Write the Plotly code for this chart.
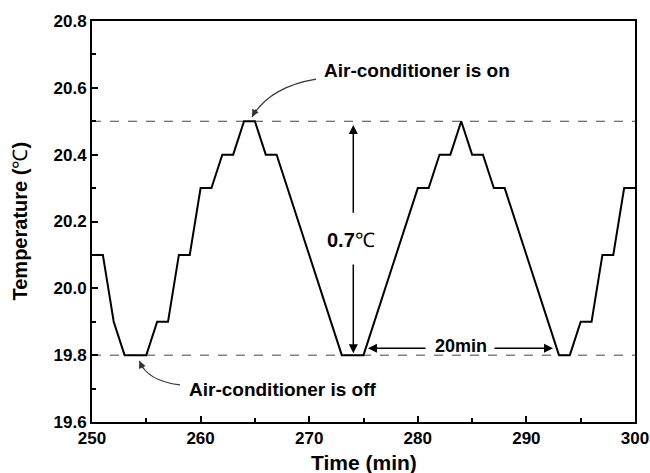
import plotly.graph_objects as go

# Data
time_min = [250, 251, 252, 253, 255, 256, 257, 258, 259, 260, 261, 262, 263, 264, 265, 266, 267,
            273, 275, 280, 281, 282, 283, 284, 285, 286, 287, 288, 293, 294, 295, 296, 297, 298, 299, 300]
temperature = [20.1, 20.1, 19.9, 19.8, 19.8, 19.9, 19.9, 20.1, 20.1, 20.3, 20.3, 20.4, 20.4, 20.5, 20.5, 20.4, 20.4,
               19.8, 19.8, 20.3, 20.3, 20.4, 20.4, 20.5, 20.4, 20.4, 20.3, 20.3, 19.8, 19.8, 19.9, 19.9, 20.1, 20.1, 20.3, 20.3]
upper_level = 20.5
lower_level = 19.8
x_ticks = [250, 260, 270, 280, 290, 300]
y_ticks = [19.6, 19.8, 20.0, 20.2, 20.4, 20.6, 20.8]
y_tick_text = ["19.6", "19.8", "20.0", "20.2", "20.4", "20.6", "20.8"]

FONT = "Liberation Sans, Arial, sans-serif"

fig = go.Figure()
fig.add_trace(go.Scatter(x=time_min, y=temperature, mode="lines",
                         line=dict(color="black", width=2), showlegend=False))

# dashed reference levels
for lvl in (upper_level, lower_level):
    fig.add_shape(type="line", xref="paper", x0=0, x1=1, yref="y", y0=lvl, y1=lvl,
                  line=dict(color="#444", width=1, dash="dash"), layer="below")

# curved arrow bodies
fig.add_shape(type="path", xref="x", yref="y",
              path="M 270.63,20.626 Q 266.39,20.603 264.73,20.513",
              line=dict(color="#333", width=1.2))
fig.add_shape(type="path", xref="x", yref="y",
              path="M 258.10,19.711 Q 255.06,19.723 254.36,19.783",
              line=dict(color="#333", width=1.2))

ann = []
# arrowheads for curved arrows
ann.append(dict(x=264.73, y=20.513, ax=5, ay=-9, text="", showarrow=True,
                arrowhead=2, arrowsize=1.2, arrowwidth=1.2, arrowcolor="#333"))
ann.append(dict(x=254.36, y=19.783, ax=4, ay=9, text="", showarrow=True,
                arrowhead=2, arrowsize=1.2, arrowwidth=1.2, arrowcolor="#333"))
# vertical double arrow
ann.append(dict(x=274.06, y=20.489, ax=274.06, ay=20.222, axref="x", ayref="y", text="",
                showarrow=True, arrowhead=2, arrowsize=1.2, arrowwidth=1.5, arrowcolor="black"))
ann.append(dict(x=274.06, y=19.806, ax=274.06, ay=20.076, axref="x", ayref="y", text="",
                showarrow=True, arrowhead=2, arrowsize=1.2, arrowwidth=1.5, arrowcolor="black"))
# horizontal double arrow
ann.append(dict(x=275.41, y=19.821, ax=280.85, ay=19.821, axref="x", ayref="y", text="",
                showarrow=True, arrowhead=2, arrowsize=1.2, arrowwidth=1.5, arrowcolor="black"))
ann.append(dict(x=292.45, y=19.821, ax=286.92, ay=19.821, axref="x", ayref="y", text="",
                showarrow=True, arrowhead=2, arrowsize=1.2, arrowwidth=1.5, arrowcolor="black"))
# texts
ann.append(dict(x=271.18, y=20.653, text="<b>Air-conditioner is on</b>", showarrow=False,
                xanchor="left", yanchor="middle", font=dict(family=FONT, size=19, color="black")))
ann.append(dict(x=258.72, y=19.696, text="<b>Air-conditioner is off</b>", showarrow=False,
                xanchor="left", yanchor="middle", font=dict(family=FONT, size=19, color="black")))
ann.append(dict(x=283.98, y=19.827, text="<b>20min</b>", showarrow=False,
                xanchor="center", yanchor="middle", font=dict(family=FONT, size=18, color="black")))
ann.append(dict(x=273.85, y=20.145, text="<b>0.7</b>℃", showarrow=False,
                xanchor="center", yanchor="middle", font=dict(family=FONT, size=20, color="black")))
# axis titles
ann.append(dict(xref="paper", yref="paper", x=0.5, y=0, yshift=-40, text="<b>Time (min)</b>",
                showarrow=False, xanchor="center", yanchor="middle",
                font=dict(family=FONT, size=21, color="black")))
ann.append(dict(xref="paper", yref="paper", x=0, y=0.5, xshift=-73, text="<b>Temperature (</b>℃<b>)</b>",
                showarrow=False, xanchor="center", yanchor="middle", textangle=-90,
                font=dict(family=FONT, size=20, color="black")))

fig.update_layout(
    width=650, height=473,
    margin=dict(l=92, r=15, t=21, b=51),
    paper_bgcolor="white", plot_bgcolor="white",
    font=dict(family=FONT, color="black"),
    annotations=ann,
    xaxis=dict(range=[250, 300], tickvals=x_ticks, ticktext=[f"<b>{v}</b>" for v in x_ticks],
               ticks="inside", ticklen=6, tickwidth=2, tickcolor="black",
               minor=dict(ticks="inside", ticklen=4, tickwidth=1.5, dtick=5, tick0=250, tickcolor="black"),
               showline=True, linewidth=2, linecolor="black", mirror=True,
               showgrid=False, zeroline=False, automargin=False,
               tickfont=dict(family=FONT, size=17, color="black")),
    yaxis=dict(range=[19.6, 20.8], tickvals=y_ticks, ticktext=[f"<b>{t}</b>" for t in y_tick_text],
               ticks="inside", ticklen=6, tickwidth=2, tickcolor="black",
               minor=dict(ticks="inside", ticklen=4, tickwidth=1.5, dtick=0.1, tick0=19.6, tickcolor="black"),
               showline=True, linewidth=2, linecolor="black", mirror=True,
               showgrid=False, zeroline=False, automargin=False,
               tickfont=dict(family=FONT, size=17, color="black")),
)

fig.write_html("out.html")
